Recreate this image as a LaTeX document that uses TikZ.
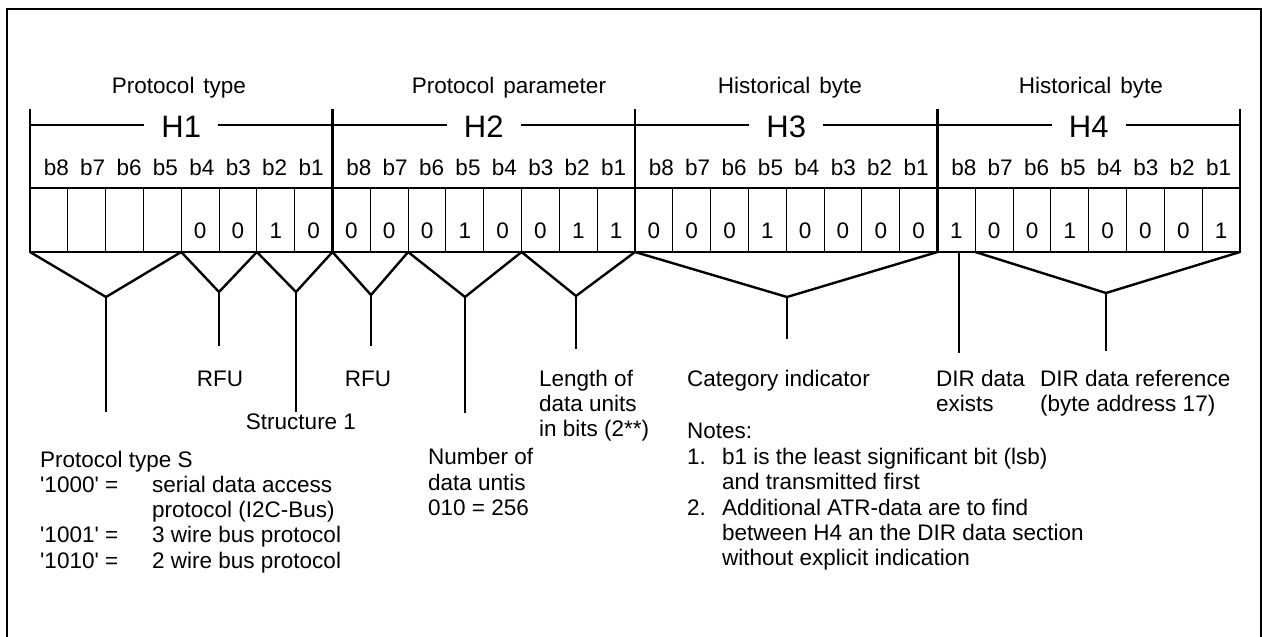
\documentclass[tikz,border=0pt]{standalone}
\usepackage{fontspec}
\setmainfont{Liberation Sans}
\begin{document}
\begin{tikzpicture}[x=1pt,y=-1pt,
  frame/.style={line width=2pt},
  thickln/.style={line width=2.2pt},
  thinln/.style={line width=1pt},
  tree/.style={line width=2.4pt, line join=miter},
  txt/.style={anchor=base west, inner sep=0pt, font=\fontsize{22.5}{26}\selectfont},
  ctxt/.style={anchor=base, inner sep=0pt, font=\fontsize{22.5}{26}\selectfont},
  hlab/.style={anchor=base, fill=white, inner xsep=17pt, inner ysep=0pt, font=\fontsize{31}{34}\selectfont}
]
\useasboundingbox (0,0) rectangle (1262,637);
% outer frame (open at bottom)
\draw[frame] (7,640) -- (7,9) -- (1261,9) -- (1261,640);

% bit boundary coordinates
\foreach \i in {0,...,32}{
  \coordinate (t\i) at ({30+\i*37.8125},188);
  \coordinate (c\i) at ({30+\i*37.8125},252);
  \coordinate (k\i) at ({30+\i*37.8125},109);
}
% bracket line
\draw[thickln] (30,125) -- (1240,125);
% thin cell dividers
\foreach \i in {1,...,7,9,10,11,12,14,15,17,18,...,23,25,26,...,31}{
  \draw[thinln] (t\i) -- (c\i);
}
\draw[line width=1.8pt] (t13) -- (c13);
% byte boundaries
\foreach \i in {0,8,16,24,32}{
  \draw[thickln] (k\i) -- (c\i);
}
\draw[thickln] (t0) -- (t32);
\draw[thickln] ([xshift=-1pt]c0) -- ([xshift=1pt]c32);

% H labels
\node[hlab] (h1) at (181.25,137) {H1};
\node[hlab] (h2) at (483.75,137) {H2};
\node[hlab] (h3) at (786.25,137) {H3};
\node[hlab] (h4) at (1088.75,137) {H4};

% headers
\node[ctxt] (p1) at (179,93) {Protocol\hspace{0.4em}type};
\node[ctxt] (p2) at (509,93) {Protocol\hspace{0.4em}parameter};
\node[ctxt] (p3) at (790,93) {Historical\hspace{0.4em}byte};
\node[ctxt] (p4) at (1091,93) {Historical\hspace{0.4em}byte};

% bit labels
\foreach \b in {0,1,2,3}{
  \foreach \k in {0,...,7}{
    \pgfmathtruncatemacro{\n}{8-\k}
    \node[ctxt] (bl\b\k) at ({30+302.5*\b+26.3+36.4*\k},175) {b\n};
  }
}

% digits
\foreach \v [count=\i from 4] in {0,0,1,0,0,0,0,1,0,0,1,1,0,0,0,1,0,0,0,0,1,0,0,1,0,0,0,1}{
  \node[ctxt] (d\i) at ({30+(\i+0.5)*37.8125},238) {\v};
}

% trees
\coordinate (a1) at (106,297);   \coordinate (e1) at (106,412);
\coordinate (a2) at (219,292);   \coordinate (e2) at (219,346);
\coordinate (a3) at (296,292);   \coordinate (e3) at (296,412);
\coordinate (a4) at (371,295);   \coordinate (e4) at (371,346);
\coordinate (a5) at (465,297);   \coordinate (e5) at (465,413);
\coordinate (a6) at (576,296);   \coordinate (e6) at (576,349);
\coordinate (a7) at (787,297);   \coordinate (e7) at (787,339);
\coordinate (b8) at (959,252);   \coordinate (e8) at (959,353);
\coordinate (a9) at (1106,293);  \coordinate (e9) at (1106,351);

\draw[tree] (c0) -- (a1) -- (c4);   \draw[tree] (a1) -- (e1);
\draw[tree] (c4) -- (a2) -- (c6);   \draw[tree] (a2) -- (e2);
\draw[tree] (c6) -- (a3) -- (c8);   \draw[tree] (a3) -- (e3);
\draw[tree] (c8) -- (a4) -- (c10);  \draw[tree] (a4) -- (e4);
\draw[tree] (c10) -- (a5) -- (c13); \draw[tree] (a5) -- (e5);
\draw[tree] (c13) -- (a6) -- (c16); \draw[tree] (a6) -- (e6);
\draw[tree] (c16) -- (a7) -- (c24); \draw[tree] (a7) -- (e7);
\draw[tree] (b8) -- (e8);
\draw[tree] (c25) -- (a9) -- (c32); \draw[tree] (a9) -- (e9);

% labels under trees
\node[ctxt] (rfu1) at (220,386) {RFU};
\node[ctxt] (str1) at (301,429) {Structure 1};
\node[ctxt] (rfu2) at (368,386) {RFU};

\node[txt] (len1) at (539,386) {Length of};
\node[txt] (len2) at (539,411) {data units};
\node[txt] (len3) at (539,436) {in bits (2**)};

\node[txt] (cat) at (687,386) {Category indicator};

\node[txt] (dir1) at (936,386) {DIR data};
\node[txt] (dir2) at (936,411) {exists};
\node[txt] (ref1) at (1040,386) {DIR data reference};
\node[txt] (ref2) at (1040,411) {(byte address 17)};

% protocol type S
\node[txt] (pt0) at (40,467) {Protocol type S};
\node[txt] (pt1) at (40,492) {\textquotesingle 1000\textquotesingle\ =};
\node[txt] (pt1b) at (152,492) {serial data access};
\node[txt] (pt1c) at (152,517) {protocol (I2C-Bus)};
\node[txt] (pt2) at (40,542) {\textquotesingle 1001\textquotesingle\ =};
\node[txt] (pt2b) at (152,542) {3 wire bus protocol};
\node[txt] (pt3) at (40,568) {\textquotesingle 1010\textquotesingle\ =};
\node[txt] (pt3b) at (152,568) {2 wire bus protocol};

% number of data units
\node[txt] (nu1) at (428,464) {Number of};
\node[txt] (nu2) at (428,490) {data untis};
\node[txt] (nu3) at (428,515) {010 = 256};

% notes
\node[txt] (n0) at (687,438) {Notes:};
\node[txt] (n1) at (687,464) {1.};
\node[txt] (n1a) at (722,464) {b1 is the least significant bit (lsb)};
\node[txt] (n1b) at (722,489) {and transmitted first};
\node[txt] (n2) at (687,515) {2.};
\node[txt] (n2a) at (722,515) {Additional ATR-data are to find};
\node[txt] (n2b) at (722,540) {between H4 an the DIR data section};
\node[txt] (n2c) at (722,565) {without explicit indication};
\end{tikzpicture}
\end{document}
